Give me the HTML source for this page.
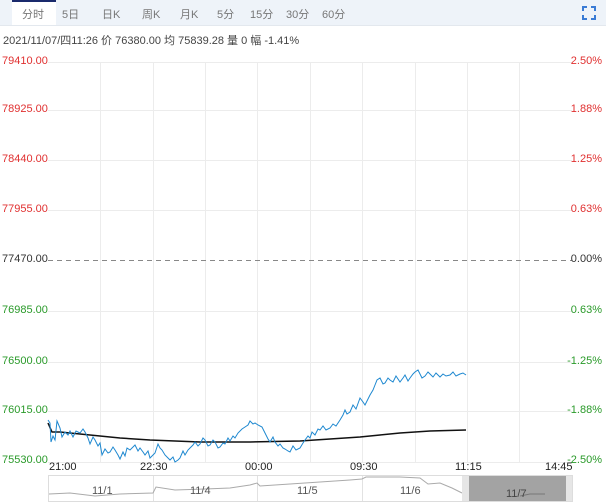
<!DOCTYPE html>
<html><head><meta charset="utf-8"><style>
body{margin:0;width:606px;height:504px;background:#fff;font-family:"Liberation Sans","Noto Sans CJK SC",sans-serif;overflow:hidden;position:relative}
.tabs{position:absolute;left:0;top:0;width:606px;height:25px;background:#eef3f9;border-bottom:1px solid #e3e8ee}
.tab{position:absolute;top:6px;font-size:11px;color:#777}
.sel{position:absolute;left:12px;top:0;width:44px;height:25px;background:#fff;border-top:2px solid #1a2a6c;box-sizing:border-box}
.info{position:absolute;left:3px;top:32px;font-size:11px;color:#444}
.l{position:absolute;left:2px;font-size:11px}
.r{position:absolute;right:4px;font-size:11px}
.t{position:absolute;top:461px;font-size:11px;color:#222}
</style></head><body>
<div class="tabs"><div class="sel"></div>
<span class="tab" style="left:22px">分时</span><span class="tab" style="left:62px">5日</span><span class="tab" style="left:102px">日K</span><span class="tab" style="left:142px">周K</span><span class="tab" style="left:180px">月K</span><span class="tab" style="left:217px">5分</span><span class="tab" style="left:250px">15分</span><span class="tab" style="left:286px">30分</span><span class="tab" style="left:322px">60分</span>
<svg style="position:absolute;left:582px;top:6px" width="14" height="14"><path d="M1 5V1H5M9 1H13V5M13 9V13H9M5 13H1V9" stroke="#3a7bd5" stroke-width="2" fill="none"/></svg>
</div>
<div class="info">2021/11/07/四11:26 价 76380.00 均 75839.28 量 0 幅 -1.41%</div>
<svg style="position:absolute;left:0;top:0" width="606" height="504">
<g stroke="#ececec" stroke-width="1">
<line x1="48" y1="62.5" x2="572" y2="62.5"/><line x1="48" y1="110.5" x2="572" y2="110.5"/><line x1="48" y1="160.5" x2="572" y2="160.5"/><line x1="48" y1="210.5" x2="572" y2="210.5"/><line x1="48" y1="311.5" x2="572" y2="311.5"/><line x1="48" y1="362.5" x2="572" y2="362.5"/><line x1="48" y1="411.5" x2="572" y2="411.5"/><line x1="48" y1="462.5" x2="572" y2="462.5"/>
<line x1="100.5" y1="62" x2="100.5" y2="462"/><line x1="153.5" y1="62" x2="153.5" y2="462"/><line x1="205.5" y1="62" x2="205.5" y2="462"/><line x1="257.5" y1="62" x2="257.5" y2="462"/><line x1="310.5" y1="62" x2="310.5" y2="462"/><line x1="362.5" y1="62" x2="362.5" y2="462"/><line x1="415.5" y1="62" x2="415.5" y2="462"/><line x1="467.5" y1="62" x2="467.5" y2="462"/><line x1="519.5" y1="62" x2="519.5" y2="462"/>
</g>
<line x1="48" y1="260.5" x2="572" y2="260.5" stroke="#888" stroke-dasharray="5,4"/>
<polyline fill="none" stroke="#111" stroke-width="1.5" points="48,423 52,432 60,432 80,434 100,436 120,438 150,440 200,442 250,442 300,441 330,439 360,437 380,435 400,433 430,431 466,430"/>
<polyline fill="none" stroke="#1e88d0" stroke-width="1" points="48,420 50,423 51,442 53,436 55,440 57,421 60,428 62,437 65,432 68,435 70,431 73,437 76,431 80,433 83,429 85,432 88,438 90,444 93,437 95,440 98,446 100,443 102,455 105,449 108,453 110,452 113,447 115,450 118,455 120,459 123,452 125,456 127,448 130,450 133,447 135,445 138,451 140,448 143,452 145,455 148,451 150,458 153,455 155,453 158,444 160,448 162,450 165,455 168,458 170,460 173,457 175,462 178,460 180,458 183,451 185,455 188,450 190,448 193,445 195,442 198,446 200,444 203,438 205,440 208,446 210,445 213,440 215,442 218,448 220,447 223,443 225,444 228,438 230,441 233,436 235,438 238,433 242,429 245,427 248,425 250,421 253,424 255,423 258,425 262,427 265,433 268,439 270,442 273,437 275,442 278,446 280,444 283,448 285,449 288,451 290,452 293,446 296,450 300,448 303,443 305,440 308,436 310,438 312,432 315,435 318,429 320,430 323,426 326,430 330,428 333,424 336,426 340,420 343,415 345,410 347,414 350,412 353,405 356,409 360,398 363,402 365,405 368,399 370,395 373,390 375,385 377,380 380,378 383,384 385,383 388,378 390,380 393,382 396,376 400,382 403,378 405,375 408,381 410,378 413,374 415,372 418,370 420,374 422,378 425,376 428,372 430,374 433,377 436,373 440,377 443,374 446,376 450,375 453,372 456,376 460,374 463,373 466,375"/>
<rect x="48.5" y="475.5" width="524" height="26" fill="#fff" stroke="#ddd"/>
<g stroke="#e2e2e2"><line x1="153.5" y1="476" x2="153.5" y2="501"/><line x1="257.5" y1="476" x2="257.5" y2="501"/><line x1="362.5" y1="476" x2="362.5" y2="501"/></g>
<polyline fill="none" stroke="#aaa" stroke-width="1" points="49,494 70,493 95,496 120,494 153,493 156,487 175,490 205,489 230,488 250,485 257,483 260,486 290,484 320,482 350,480 362,479 366,477 400,477 420,478 428,484 440,483 452,488 462,493"/>
<rect x="462" y="476" width="104" height="25" fill="#a3a3a3"/>
<rect x="462" y="476" width="7" height="25" fill="#e6e6e6"/><rect x="566" y="476" width="6" height="25" fill="#e6e6e6"/>
<polyline fill="none" stroke="#777" points="520,496 530,494 545,494"/>
<g font-size="11" fill="#555" font-family="Liberation Sans,sans-serif"><text x="92" y="494">11/1</text><text x="190" y="494">11/4</text><text x="297" y="494">11/5</text><text x="400" y="494">11/6</text><text x="506" y="497" fill="#444">11/7</text></g>
</svg>
<div class="l" style="top:55px;color:#e03030">79410.00</div>
<div class="l" style="top:103px;color:#e03030">78925.00</div>
<div class="l" style="top:153px;color:#e03030">78440.00</div>
<div class="l" style="top:203px;color:#e03030">77955.00</div>
<div class="l" style="top:253px;color:#333">77470.00</div>
<div class="l" style="top:304px;color:#2a9a2a">76985.00</div>
<div class="l" style="top:355px;color:#2a9a2a">76500.00</div>
<div class="l" style="top:404px;color:#2a9a2a">76015.00</div>
<div class="l" style="top:454px;color:#2a9a2a">75530.00</div>
<div class="r" style="top:55px;color:#e03030">2.50%</div>
<div class="r" style="top:103px;color:#e03030">1.88%</div>
<div class="r" style="top:153px;color:#e03030">1.25%</div>
<div class="r" style="top:203px;color:#e03030">0.63%</div>
<div class="r" style="top:253px;color:#333">0.00%</div>
<div class="r" style="top:304px;color:#2a9a2a">0.63%</div>
<div class="r" style="top:355px;color:#2a9a2a">-1.25%</div>
<div class="r" style="top:404px;color:#2a9a2a">-1.88%</div>
<div class="r" style="top:454px;color:#2a9a2a">-2.50%</div>
<div class="t" style="left:49px">21:00</div>
<div class="t" style="left:140px">22:30</div>
<div class="t" style="left:245px">00:00</div>
<div class="t" style="left:350px">09:30</div>
<div class="t" style="left:455px">11:15</div>
<div class="t" style="left:545px">14:45</div>
</body></html>
